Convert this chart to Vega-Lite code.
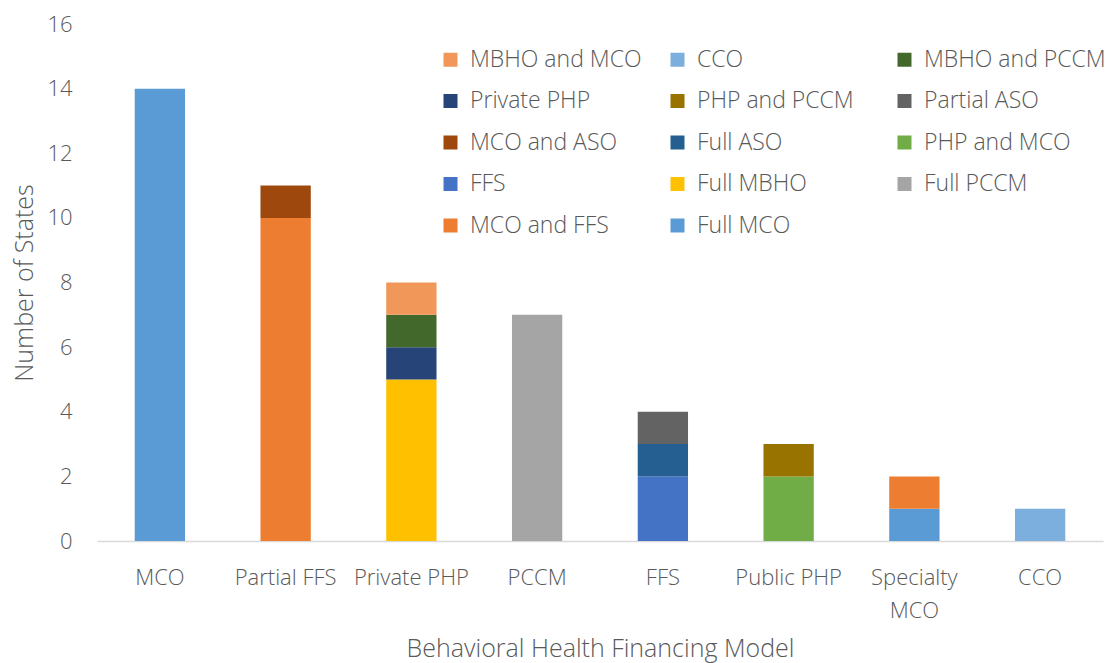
{
  "$schema": "https://vega.github.io/schema/vega-lite/v6.json",
  "autosize": {"type": "fit", "contains": "padding"},
  "width": 1113,
  "height": 663,
  "padding": {"left": 12, "top": 13, "right": 10, "bottom": 2},
  "config": {
    "font": "Open Sans",
    "view": {"stroke": null},
    "axis": {"labelColor": "#595959", "titleColor": "#595959", "labelFont": "Open Sans", "titleFont": "Open Sans", "titleFontWeight": 300, "labelFontWeight": 300},
    "legend": {"labelColor": "#595959", "labelFont": "Open Sans", "labelFontWeight": 300}
  },
  "data": {
    "values": [
      {"model": "MCO", "series": "Full MCO", "count": 14},
      {"model": "Partial FFS", "series": "MCO and FFS", "count": 10},
      {"model": "Partial FFS", "series": "MCO and ASO", "count": 1},
      {"model": "Private PHP", "series": "Full MBHO", "count": 5},
      {"model": "Private PHP", "series": "Private PHP", "count": 1},
      {"model": "Private PHP", "series": "MBHO and PCCM", "count": 1},
      {"model": "Private PHP", "series": "MBHO and MCO", "count": 1},
      {"model": "PCCM", "series": "Full PCCM", "count": 7},
      {"model": "FFS", "series": "FFS", "count": 2},
      {"model": "FFS", "series": "Full ASO", "count": 1},
      {"model": "FFS", "series": "Partial ASO", "count": 1},
      {"model": "Public PHP", "series": "PHP and MCO", "count": 2},
      {"model": "Public PHP", "series": "PHP and PCCM", "count": 1},
      {"model": "Specialty MCO", "series": "Full MCO", "count": 1},
      {"model": "Specialty MCO", "series": "MCO and FFS", "count": 1},
      {"model": "CCO", "series": "CCO", "count": 1}
    ]
  },
  "transform": [
    {"calculate": "indexof(['Full MCO','MCO and FFS','Full PCCM','Full MBHO','FFS','PHP and MCO','Full ASO','MCO and ASO','Partial ASO','PHP and PCCM','Private PHP','MBHO and PCCM','CCO','MBHO and MCO'], datum.series)", "as": "stackOrder"}
  ],
  "mark": {"type": "bar"},
  "encoding": {
    "x": {
      "field": "model",
      "type": "nominal",
      "sort": ["MCO", "Partial FFS", "Private PHP", "PCCM", "FFS", "Public PHP", "Specialty MCO", "CCO"],
      "scale": {"paddingInner": 0.6, "paddingOuter": 0.3},
      "axis": {
        "title": "Behavioral Health Financing Model",
        "titleFontSize": 25,
        "titlePadding": 15,
        "labelFontSize": 22,
        "labelAngle": 0,
        "labelPadding": 26,
        "labelLineHeight": 33,
        "labelExpr": "datum.label == 'Specialty MCO' ? ['Specialty', 'MCO'] : datum.label",
        "ticks": false,
        "domainColor": "#D9D9D9",
        "domainWidth": 1.5
      }
    },
    "y": {
      "field": "count",
      "type": "quantitative",
      "stack": "zero",
      "scale": {"domain": [0, 16]},
      "axis": {
        "title": "Number of States",
        "titleFontSize": 25,
        "titlePadding": 9,
        "labelFontSize": 22,
        "labelPadding": 25,
        "values": [0, 2, 4, 6, 8, 10, 12, 14, 16],
        "labelOverlap": false,
        "grid": false,
        "ticks": false,
        "domain": false
      }
    },
    "color": {
      "field": "series",
      "type": "nominal",
      "scale": {
        "domain": ["MBHO and MCO", "CCO", "MBHO and PCCM", "Private PHP", "PHP and PCCM", "Partial ASO", "MCO and ASO", "Full ASO", "PHP and MCO", "FFS", "Full MBHO", "Full PCCM", "MCO and FFS", "Full MCO"],
        "range": ["#F1975A", "#7CAFDD", "#43682B", "#264478", "#997300", "#636363", "#9E480E", "#255E91", "#70AD47", "#4472C4", "#FFC000", "#A5A5A5", "#ED7D31", "#5B9BD5"]
      },
      "legend": {
        "title": null,
        "orient": "none",
        "direction": "horizontal",
        "legendX": 342,
        "legendY": 24,
        "columns": 3,
        "gridAlign": "all",
        "symbolType": "square",
        "symbolSize": 196,
        "symbolStrokeWidth": 0,
        "labelFontSize": 23,
        "labelOffset": 8,
        "rowPadding": 17.5,
        "columnPadding": 14,
        "labelLimit": 300
      }
    },
    "order": {"field": "stackOrder", "type": "quantitative", "sort": "ascending"}
  }
}
